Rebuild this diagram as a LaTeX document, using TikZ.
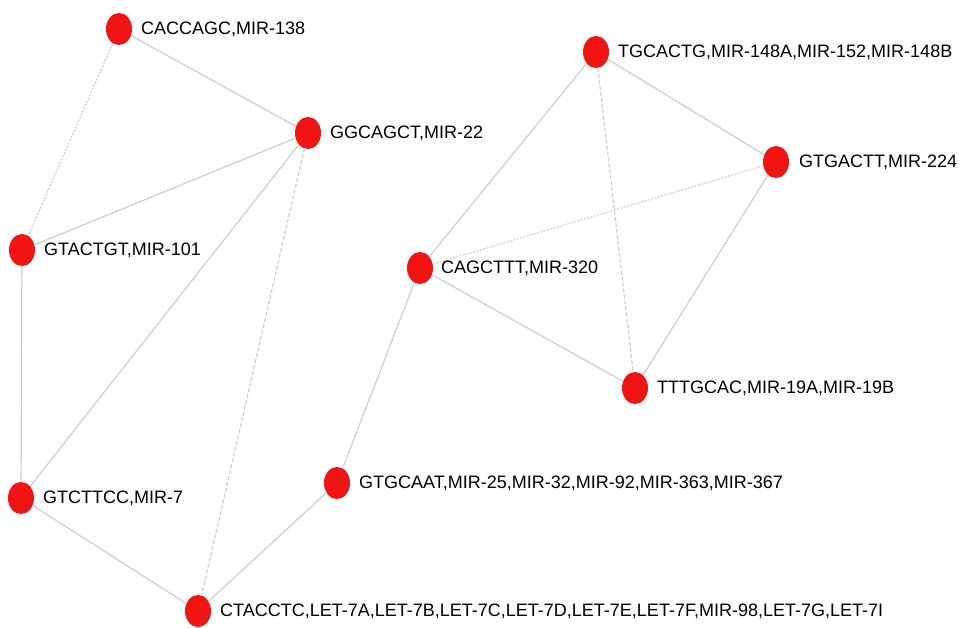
\documentclass[tikz,border=0pt]{standalone}
\usepackage{fontspec}
\setmainfont{Liberation Sans}
\usetikzlibrary{shapes.geometric}
\definecolor{nodered}{RGB}{240,20,20}
\definecolor{edgegrey}{RGB}{205,205,205}
\begin{document}
\begin{tikzpicture}[x=1pt,y=-1pt,
  gene/.style={ellipse, fill=nodered, draw=none, minimum width=26pt, minimum height=32pt, inner sep=0pt},
  lbl/.style={anchor=west, font=\fontsize{18}{20}\selectfont, inner sep=0pt, text=black},
  edge/.style={draw=edgegrey, line width=1.2pt},
  dedge/.style={edge, dash pattern=on 2pt off 1.5pt},
  ddedge/.style={edge, dash pattern=on 4pt off 2pt}]
\useasboundingbox (0,0) rectangle (959,628);
% nodes
\node[gene] (n138) at (119,29) {};
\node[gene] (n22) at (308,133) {};
\node[gene] (n101) at (22,250) {};
\node[gene] (n7) at (21,498) {};
\node[gene] (nlet) at (198,611) {};
\node[gene] (n25) at (337,483) {};
\node[gene] (n320) at (420,268) {};
\node[gene] (n148) at (596,52) {};
\node[gene] (n224) at (776,162) {};
\node[gene] (n19) at (635,388) {};
% edges
\path[edge] (n138) -- (n22);
\path[dedge] (n138) -- (n101);
\path[edge] (n22) -- (n101);
\path[edge] (n22) -- (n7);
\path[ddedge] (n22) -- (nlet);
\path[edge] (n101) -- (n7);
\path[edge] (n7) -- (nlet);
\path[edge] (nlet) -- (n25);
\path[edge] (n25) -- (n320);
\path[edge] (n320) -- (n148);
\path[dedge] (n320) -- (n224);
\path[edge] (n320) -- (n19);
\path[edge] (n148) -- (n224);
\path[ddedge] (n148) -- (n19);
\path[edge] (n224) -- (n19);
% labels
\node[lbl] (l138) at ([xshift=22pt]n138.center) {CACCAGC,MIR-138};
\node[lbl] (l22) at ([xshift=22pt]n22.center) {GGCAGCT,MIR-22};
\node[lbl] (l101) at ([xshift=22pt]n101.center) {GTACTGT,MIR-101};
\node[lbl] (l7) at ([xshift=22pt]n7.center) {GTCTTCC,MIR-7};
\node[lbl] (llet) at ([xshift=22pt]nlet.center) {CTACCTC,LET-7A,LET-7B,LET-7C,LET-7D,LET-7E,LET-7F,MIR-98,LET-7G,LET-7I};
\node[lbl] (l25) at ([xshift=22pt]n25.center) {GTGCAAT,MIR-25,MIR-32,MIR-92,MIR-363,MIR-367};
\node[lbl] (l320) at ([xshift=21pt]n320.center) {CAGCTTT,MIR-320};
\node[lbl] (l148) at ([xshift=22pt]n148.center) {TGCACTG,MIR-148A,MIR-152,MIR-148B};
\node[lbl] (l224) at ([xshift=23pt]n224.center) {GTGACTT,MIR-224};
\node[lbl] (l19) at ([xshift=22pt]n19.center) {TTTGCAC,MIR-19A,MIR-19B};
\end{tikzpicture}
\end{document}
